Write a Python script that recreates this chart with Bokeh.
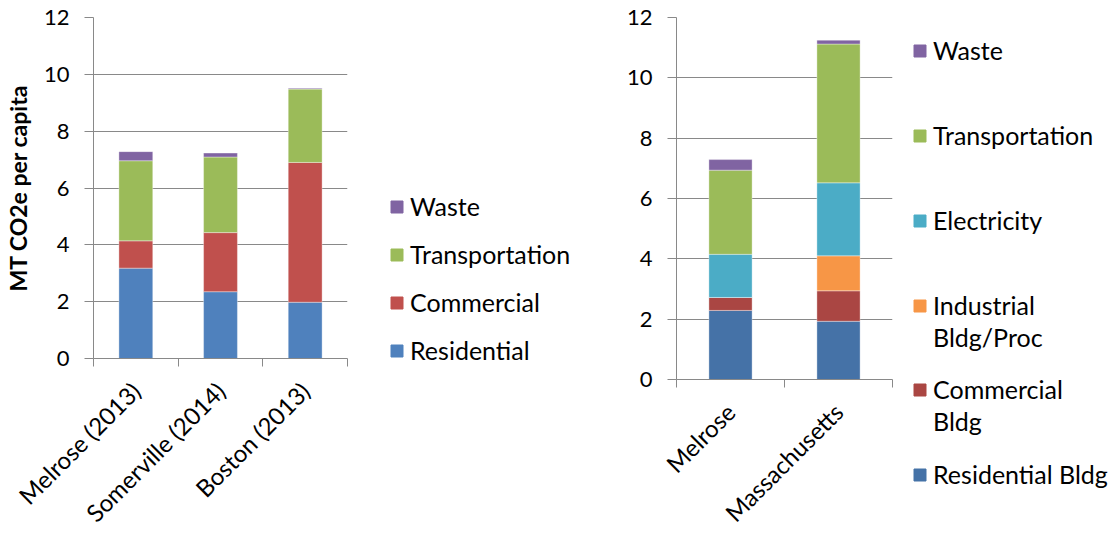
import math
from bokeh.plotting import figure
from bokeh.models import ColumnDataSource, Range1d, FixedTicker, Legend, LegendItem
from bokeh.layouts import row
from bokeh.embed import file_html
from bokeh.resources import INLINE

# ---------------- data ----------------
left_cities = ["Melrose (2013)", "Somerville (2014)", "Boston (2013)"]
left_residential = [3.18, 2.35, 1.98]
left_commercial = [0.96, 2.08, 4.92]
left_transportation = [2.82, 2.66, 2.58]
left_waste = [0.32, 0.14, 0.03]

right_places = ["Melrose", "Massachusetts"]
right_residential = [2.29, 1.93]
right_commercial = [0.43, 1.01]
right_industrial = [0.0, 1.16]
right_electricity = [1.43, 2.42]
right_transportation = [2.79, 4.60]
right_waste = [0.35, 0.13]

y_ticks = [0, 2, 4, 6, 8, 10, 12]
y_title = "MT CO2e per capita"

left_series = ["Residential", "Commercial", "Transportation", "Waste"]
left_colors = ["#4F81BD", "#C0504D", "#9BBB59", "#8064A2"]
right_series = ["Residential Bldg", "Commercial Bldg", "Industrial Bldg/Proc",
                "Electricity", "Transportation", "Waste"]
right_colors = ["#4572A7", "#AA4643", "#F79646", "#4BACC6", "#9BBB59", "#8064A2"]

FONT = "Lato"
GRAY = "#898989"
H = 540
LEG_FONT = "25px"
ITEM_H = 32


def no_align(p):
    try:
        p.frame_align = False
    except Exception:
        pass


def make_source(stacks):
    n = len(stacks[0])
    data = {"x": [i + 0.5 for i in range(n)]}
    keys = []
    for k, vals in enumerate(stacks):
        key = "s%d" % k
        data[key] = vals
        keys.append(key)
    return ColumnDataSource(data), keys


def make_chart(cats, src, keys, colors, width, b_left, b_right, b_bottom, ylabel):
    n = len(cats)
    xs = [i + 0.5 for i in range(n)]
    p = figure(width=width, height=H, output_backend="svg",
               toolbar_location=None, x_range=Range1d(0, n),
               y_range=Range1d(y_ticks[0], y_ticks[-1]),
               min_border_left=b_left, min_border_right=b_right,
               min_border_top=17, min_border_bottom=b_bottom)
    no_align(p)
    p.outline_line_color = None
    p.xgrid.grid_line_color = None
    p.ygrid.grid_line_color = GRAY
    p.ygrid.ticker = FixedTicker(ticks=y_ticks)

    p.vbar_stack(keys, x="x", width=0.4, source=src, color=colors,
                 line_color="white", line_width=0.6, line_alpha=0.6)

    # x axis: labels at category centres, tick marks at category boundaries
    xa = p.xaxis[0]
    xa.ticker = FixedTicker(ticks=xs, minor_ticks=list(range(n + 1)))
    xa.major_label_overrides = {x: c for x, c in zip(xs, cats)}
    xa.major_tick_line_color = None
    xa.major_tick_out = 0
    xa.major_tick_in = 0
    xa.minor_tick_line_color = GRAY
    xa.minor_tick_out = 8
    xa.minor_tick_in = 0
    xa.axis_line_color = GRAY
    xa.major_label_orientation = math.pi / 4
    xa.major_label_standoff = 20
    xa.major_label_text_font = FONT
    xa.major_label_text_font_size = "24px"
    xa.major_label_text_color = "black"

    ya = p.yaxis[0]
    ya.ticker = FixedTicker(ticks=y_ticks)
    ya.minor_tick_line_color = None
    ya.major_tick_line_color = GRAY
    ya.major_tick_out = 9
    ya.major_tick_in = 0
    ya.axis_line_color = GRAY
    ya.major_label_standoff = 15
    ya.major_label_text_font = FONT
    ya.major_label_text_font_size = "22px"
    ya.major_label_text_color = "black"
    if ylabel:
        ya.axis_label = ylabel
        ya.axis_label_text_font = FONT
        ya.axis_label_text_font_style = "bold"
        ya.axis_label_text_font_size = "23px"
        ya.axis_label_text_color = "black"
        ya.axis_label_standoff = 9
    return p


def legend_panel(width):
    lp = figure(width=width, height=H, output_backend="svg", toolbar_location=None,
                x_axis_location=None, y_axis_location=None,
                x_range=Range1d(-20, -19), y_range=Range1d(0, 1),
                min_border=0)
    no_align(lp)
    lp.outline_line_color = None
    lp.grid.grid_line_color = None
    return lp


def add_legend(lp, entries, loc, spacing):
    leg = Legend(items=[LegendItem(label=t, renderers=[r]) for t, r in entries],
                 location=loc, glyph_width=15, glyph_height=15,
                 label_standoff=6, spacing=spacing, padding=0, margin=0,
                 label_height=ITEM_H,
                 border_line_alpha=0, background_fill_alpha=0,
                 label_text_font=FONT, label_text_font_size=LEG_FONT,
                 label_text_color="black")
    lp.add_layout(leg)


src1, keys1 = make_source([left_residential, left_commercial,
                           left_transportation, left_waste])
src2, keys2 = make_source([right_residential, right_commercial, right_industrial,
                           right_electricity, right_transportation, right_waste])

p1 = make_chart(left_cities, src1, keys1, left_colors, 370, 93, 23, 180, y_title)
p2 = make_chart(right_places, src2, keys2, right_colors, 325, 93, 16, 160, None)

# left legend
l1 = legend_panel(213)
r1 = l1.vbar_stack(keys1, x="x", width=0.4, source=src1, color=left_colors)
add_legend(l1, list(zip(left_series, r1))[::-1], (19, 174), 16)

# right legend (two-line entries: swatch beside the first line)
l2 = legend_panel(204)
r2 = l2.vbar_stack(keys2, x="x", width=0.4, source=src2, color=right_colors)
blank = l2.vbar(x="x", top=keys2[0], width=0.4, source=src2,
                fill_alpha=0, line_alpha=0)
names2 = dict(zip(right_series, r2))
two_line = ("Commercial Bldg", "Industrial Bldg/Proc")
first_lines = {nm: (nm.split(" ")[0] if nm in two_line else nm) for nm in right_series}
second_lines = {nm: nm.split(" ", 1)[1] for nm in two_line}
add_legend(l2, [(first_lines[nm], names2[nm]) for nm in
                ["Waste", "Transportation", "Electricity", "Industrial Bldg/Proc"]],
           (4, 219), 53)
add_legend(l2, [(second_lines["Industrial Bldg/Proc"], blank)], (4, 187), 0)
add_legend(l2, [(first_lines["Commercial Bldg"], names2["Commercial Bldg"])], (4, 135), 0)
add_legend(l2, [(second_lines["Commercial Bldg"], blank)], (4, 103), 0)
add_legend(l2, [(first_lines["Residential Bldg"], names2["Residential Bldg"])], (4, 50), 0)

layout = row(p1, l1, p2, l2)
open("out.html", "w").write(file_html(layout, INLINE))
